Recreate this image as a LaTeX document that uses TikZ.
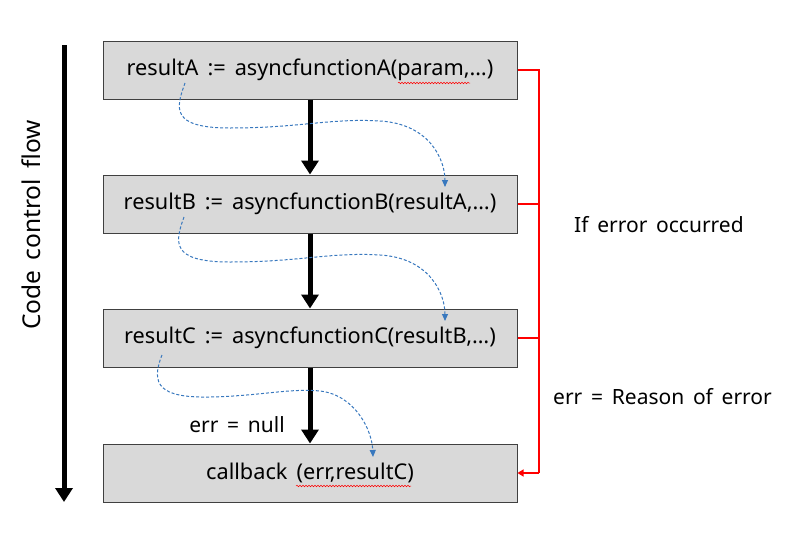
\documentclass[tikz,border=0pt]{standalone}
\usepackage{fontspec}
\setmainfont[WordSpace=1.6]{Noto Sans}
\usetikzlibrary{arrows.meta,decorations.pathmorphing}
\definecolor{boxfill}{RGB}{217,217,217}
\definecolor{boxline}{RGB}{64,64,64}
\definecolor{flowblue}{RGB}{56,120,190}
\definecolor{errred}{RGB}{255,0,0}
\tikzset{
  codebox/.style={draw=boxline,fill=boxfill,line width=1pt,minimum width=414pt,minimum height=58pt,inner sep=0pt,font=\fontsize{21.7}{24}\selectfont},
  bigarrow/.style={line width=5pt,-{Triangle[length=14pt,width=17pt]}},
  errline/.style={errred,line width=1.2pt},
  errarrow/.style={errred,line width=1.2pt,-{Triangle[length=6pt,width=7pt]}},
  dataflow/.style={flowblue,line width=1pt,dash pattern=on 3pt off 2pt,-{Triangle[length=7pt,width=6pt]}},
  lbl/.style={font=\fontsize{21}{24}\selectfont,inner sep=0pt},
  squig/.style={errred,line width=0.5pt,decorate,decoration={snake,amplitude=0.8pt,segment length=3pt}}
}
\begin{document}
\begin{tikzpicture}[x=1pt,y=-1pt]
\useasboundingbox (0,0) rectangle (788,533);
% boxes
\node[codebox] (A) at (310,70) {resultA := asyncfunctionA(param,…)};
\node[codebox] (B) at (310,204) {resultB := asyncfunctionB(resultA,…)};
\node[codebox] (C) at (310,338) {resultC := asyncfunctionC(resultB,…)};
\node[codebox] (D) at (310,473) {callback (err,resultC)};
% main flow arrows
\draw[bigarrow] (A.south) -- (B.north);
\draw[bigarrow] (B.south) -- (C.north);
\draw[bigarrow] (C.south) -- (D.north);
% code control flow
\coordinate (ctop) at (64,45);
\coordinate (cbot) at (64,502);
\draw[bigarrow] (ctop) -- (cbot);
\node[lbl,rotate=90,font=\fontsize{24.5}{28}\selectfont] (ccf) at (31,225) {Code control flow};
% error path
\coordinate (ra) at (539,70);
\coordinate (rb) at (539,204);
\coordinate (rc) at (539,338);
\coordinate (rd) at (539,473);
\draw[errline] (A.east) -- (ra) -- (rd);
\draw[errline] (B.east) -- (rb);
\draw[errline] (C.east) -- (rc);
\draw[errarrow] (rd) -- (D.east);
\node[lbl,anchor=west] (ifr) at (574,225) {If error occurred};
\node[lbl,anchor=west] (rsn) at (553,397) {err = Reason of error};
\node[lbl] (nul) at (237,425) {err = null};
% data flow dashed curves
\coordinate (sa) at (185,83);
\coordinate (ea) at (445,187);
\draw[dataflow] (sa) .. controls (176,108) and (170,128) .. (230,128)
  .. controls (300,128) and (330,118) .. (380,121)
  .. controls (430,124) and (445,160) .. (ea);
\coordinate (sb) at (184,217);
\coordinate (eb) at (445,321);
\draw[dataflow] (sb) .. controls (175,242) and (170,262) .. (230,262)
  .. controls (300,262) and (330,252) .. (380,255)
  .. controls (430,258) and (445,294) .. (eb);
\coordinate (sc) at (162,355);
\coordinate (ec) at (373,457);
\draw[dataflow] (sc) .. controls (150,385) and (160,398) .. (210,397)
  .. controls (260,396) and (290,388) .. (320,391)
  .. controls (355,395) and (372,430) .. (ec);
% spell-check squiggles
\coordinate (q1a) at (398,83);
\coordinate (q1b) at (470,83);
\draw[squig] (q1a) -- (q1b);
\coordinate (q2a) at (296,486);
\coordinate (q2b) at (411,486);
\draw[squig] (q2a) -- (q2b);
\end{tikzpicture}
\end{document}
